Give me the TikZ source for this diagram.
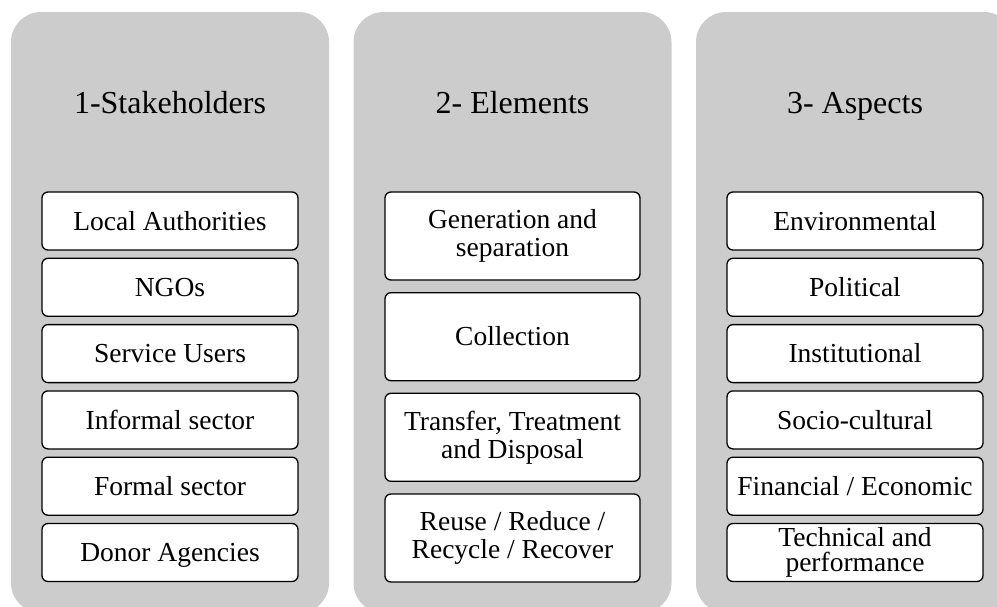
\documentclass[tikz,border=0pt]{standalone}
\usepackage{fontspec}
\setmainfont{Liberation Serif}
\definecolor{panelgray}{HTML}{CCCCCC}
\begin{document}
\begin{tikzpicture}[x=1pt,y=-1pt,
  panel/.style={fill=panelgray, rounded corners=30pt, minimum width=318pt, minimum height=601pt, inner sep=0pt},
  ttl/.style={font=\fontsize{32}{34}\selectfont, anchor=base, inner sep=0pt},
  item/.style={draw=black, line width=1.3pt, rounded corners=6pt, fill=white, minimum width=256pt, inner sep=0pt, font=\fontsize{27.5}{28}\selectfont, align=center},
  one/.style={item, minimum height=58pt, text height=18.2pt, text depth=0pt},
  two/.style={item, minimum height=88pt},
  tight/.style={item, minimum height=58pt, font=\fontsize{27.5}{25}\selectfont}
]
\useasboundingbox (0,0) rectangle (997,606);
\begin{scope}
\clip (0,0) rectangle (997,606);
% panels
\node[panel] (p1) at (170,312.5) {};
\node[panel] (p2) at (512.5,312.5) {};
\node[panel] (p3) at (855,312.5) {};
% titles
\node[ttl] (t1) at (170,113) {1-Stakeholders};
\node[ttl] (t2) at (512.5,113) {2- Elements};
\node[ttl] (t3) at (855,113) {3- Aspects};
% column 1
\node[one] (s1) at (170,221) {Local Authorities};
\node[one] (s2) at (170,287.3) {NGOs};
\node[one] (s3) at (170,353.6) {Service Users};
\node[one] (s4) at (170,419.9) {Informal sector};
\node[one] (s5) at (170,486.2) {Formal sector};
\node[one] (s6) at (170,552.5) {Donor Agencies};
% column 2
\node[two, minimum width=255pt] (e1) at (512.5,236) {Generation and\\separation};
\node[two, minimum width=255pt, text height=18.2pt, text depth=0pt] (e2) at (512.5,336.7) {Collection};
\node[two, minimum width=255pt] (e3) at (512.5,437.3) {Transfer, Treatment\\and Disposal};
\node[two, minimum width=255pt] (e4) at (512.5,538) {Reuse / Reduce /\\Recycle / Recover};
% column 3
\node[one] (a1) at (855,221) {Environmental};
\node[one] (a2) at (855,287.3) {Political};
\node[one] (a3) at (855,353.6) {Institutional};
\node[one] (a4) at (855,419.9) {Socio-cultural};
\node[one] (a5) at (855,486.2) {Financial / Economic};
\node[tight] (a6) at (855,552.5) {Technical and\\performance};
\end{scope}
\end{tikzpicture}
\end{document}
